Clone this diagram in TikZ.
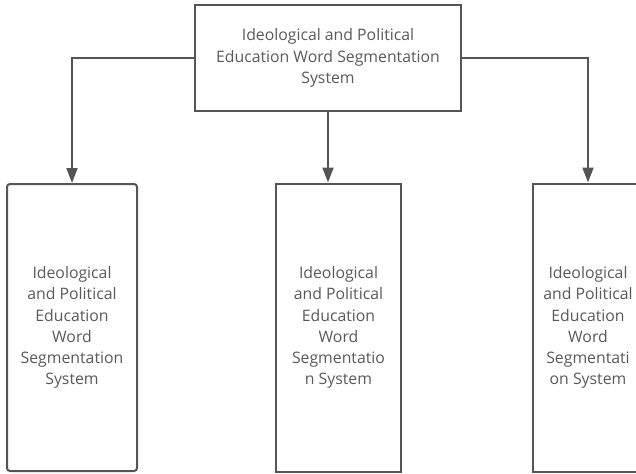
\documentclass[tikz,border=0pt]{standalone}
\usepackage{fontspec}
\setmainfont{Open Sans}
\usetikzlibrary{arrows.meta}

\definecolor{linegray}{HTML}{555555}
\definecolor{textgray}{HTML}{5A5A5A}

\tikzset{
    sysbox/.style={draw=linegray, line width=2pt, fill=white, align=center,
        text=textgray, inner sep=0pt,
        font=\fontsize{15.8}{21.2}\selectfont},
    link/.style={draw=linegray, line width=2pt,
        -{Triangle[length=15pt,width=11pt]}}
}

\begin{document}
\begin{tikzpicture}[x=1pt,y=1pt]
    \useasboundingbox (0,0) rectangle (636,-473);
    % top system box
    \node [sysbox, minimum width=266, minimum height=106] (sys) at (328,-58)
        {Ideological and Political\\Education Word Segmentation\\System};
    % three sub boxes
    \node [sysbox, rounded corners=3pt, minimum width=130, minimum height=287] (left) at (72,-327.5)
        {Ideological\\and Political\\Education\\Word\\Segmentation\\System};
    \node [sysbox, minimum width=125, minimum height=288] (mid) at (338.5,-327.5)
        {Ideological\\and Political\\Education\\Word\\Segmentatio\\n System};
    \node [sysbox, minimum width=110, minimum height=288] (right) at (588,-327.5)
        {Ideological\\and Political\\Education\\Word\\Segmentati\\on System};
    % connectors
    \draw [link] (sys.west) -| (left.north);
    \draw [link] (sys.south) -- (sys.south |- mid.north);
    \draw [link] (sys.east) -| (right.north);
\end{tikzpicture}
\end{document}
